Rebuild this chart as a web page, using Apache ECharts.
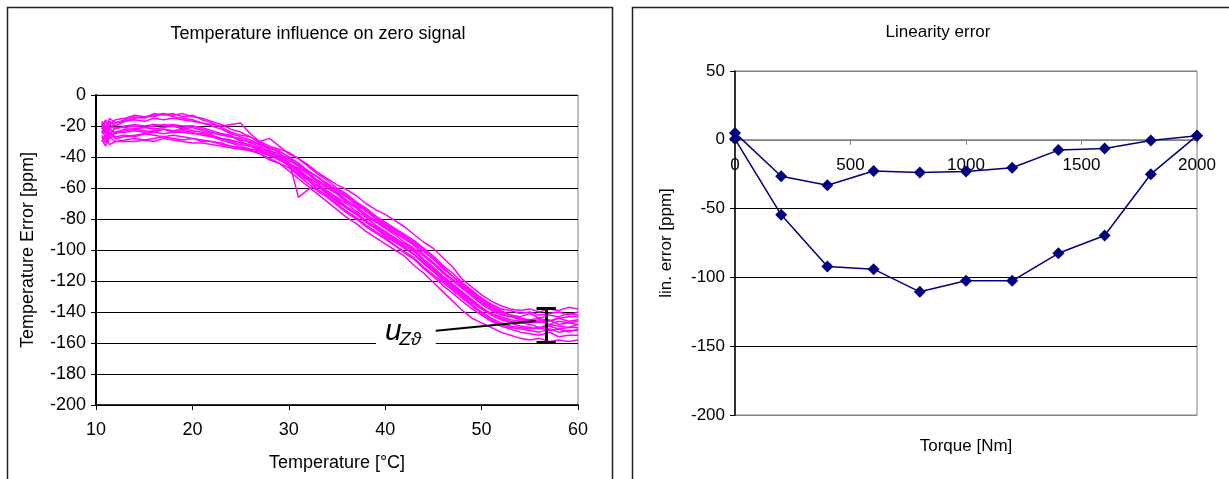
<!DOCTYPE html>
<html>
<head>
<meta charset="utf-8">
<script src="https://cdn.jsdelivr.net/npm/echarts@6/dist/echarts.min.js"></script>
<style>
  html, body { margin: 0; padding: 0; background: #fff; }
  #chart { width: 1229px; height: 479px; }
</style>
</head>
<body>
<div id="chart"></div>
<script>
// ---- Temperature influence on zero signal: repeated runs, error vs temperature ----
const temperatures = [10.6, 11.0, 11.4, 12, 13, 14, 15, 16, 17, 18, 19, 20, 21, 22, 23, 24, 25, 26, 27, 28, 29, 30,
  31, 32, 33, 34, 35, 36, 37, 38, 39, 40, 41, 42, 43, 44, 45, 46, 47, 48, 49, 50, 51, 52, 53, 54, 55, 56, 57, 58, 59, 60];

const run1 = [-18, -24, -17, -20, -17, -15, -14, -13, -12, -13, -12, -14, -15, -17, -19, -22, -24, -27, -31, -34, -37, -44,
  -50, -54, -59, -64, -69, -73, -77, -82, -86, -90, -94, -98, -103, -108, -113, -119, -124, -129, -134, -138, -141, -143, -145, -146, -147, -146, -148, -146, -147, -146];
const run2 = [-20, -16, -22, -18, -16, -14, -15, -12, -13, -12, -14, -13, -16, -18, -21, -24, -26, -27, -30, -28, -33, -38,
  -41, -46, -51, -55, -60, -64, -69, -73, -78, -82, -86, -90, -94, -99, -104, -110, -115, -121, -126, -131, -135, -138, -139, -141, -140, -142, -141, -140, -142, -140];
const run3 = [-21, -25, -19, -22, -20, -19, -20, -19, -20, -19, -20, -20, -21, -23, -25, -27, -28, -31, -33, -37, -39, -42,
  -46, -50, -55, -59, -63, -68, -72, -77, -81, -85, -89, -93, -97, -103, -108, -114, -119, -124, -129, -134, -138, -141, -143, -144, -145, -144, -146, -144, -143, -143];
const run4 = [-27, -31, -25, -28, -27, -26, -25, -24, -25, -24, -24, -25, -25, -27, -28, -30, -32, -33, -35, -37, -41, -46,
  -51, -55, -61, -65, -70, -75, -79, -84, -88, -92, -97, -101, -105, -111, -116, -121, -126, -131, -136, -141, -145, -148, -150, -151, -152, -153, -151, -153, -152, -152];
const run5 = [-19, -23, -26, -21, -21, -20, -21, -20, -19, -20, -21, -20, -22, -24, -26, -27, -29, -30, -32, -35, -40, -44,
  -48, -53, -57, -62, -66, -70, -75, -79, -84, -88, -92, -96, -100, -106, -111, -117, -122, -127, -132, -137, -141, -144, -146, -147, -148, -150, -148, -149, -150, -148];
const run6 = [-22, -17, -19, -16, -15, -13, -14, -14, -12, -14, -15, -16, -18, -19, -20, -19, -18, -25, -30, -33, -35, -37,
  -41, -45, -50, -54, -58, -61, -65, -70, -74, -77, -81, -85, -90, -95, -99, -105, -111, -119, -124, -129, -133, -136, -138, -139, -138, -140, -138, -139, -137, -138];
const run7 = [-30, -26, -32, -30, -29, -28, -29, -28, -27, -28, -29, -28, -30, -30, -31, -33, -34, -36, -38, -41, -44, -49,
  -54, -59, -64, -69, -74, -79, -83, -88, -92, -96, -100, -104, -110, -115, -121, -127, -133, -139, -144, -147, -150, -153, -155, -157, -158, -157, -159, -158, -159, -158];
const run8 = [-29, -33, -27, -30, -30, -30, -29, -30, -28, -29, -30, -31, -31, -32, -33, -34, -35, -36, -37, -39, -40, -42,
  -66, -61, -58, -63, -67, -72, -76, -81, -85, -89, -93, -97, -101, -107, -112, -118, -123, -128, -133, -138, -142, -145, -147, -149, -150, -151, -149, -151, -150, -150];
const run9 = [-24, -20, -23, -24, -22, -22, -21, -22, -21, -20, -22, -21, -23, -25, -25, -26, -30, -33, -36, -38, -41, -45,
  -47, -51, -56, -60, -64, -69, -73, -78, -82, -86, -90, -95, -99, -104, -109, -115, -120, -125, -130, -135, -139, -142, -143, -145, -146, -145, -146, -144, -146, -145];
const run10 = [-26, -29, -24, -27, -26, -27, -25, -26, -27, -26, -27, -28, -29, -30, -32, -33, -34, -35, -38, -42, -44, -47,
  -52, -57, -62, -66, -71, -76, -80, -85, -89, -93, -97, -102, -106, -112, -117, -123, -128, -133, -138, -142, -146, -149, -151, -153, -154, -155, -153, -156, -155, -155];
const run11 = [-17, -21, -15, -18, -17, -16, -17, -15, -16, -15, -16, -17, -18, -20, -22, -25, -27, -29, -32, -34, -36, -40,
  -44, -49, -53, -58, -62, -66, -71, -75, -80, -84, -88, -92, -96, -101, -106, -112, -117, -123, -128, -133, -137, -140, -142, -143, -141, -144, -142, -143, -141, -142];
const run12 = [-25, -21, -28, -24, -24, -23, -24, -23, -22, -24, -23, -24, -26, -27, -29, -31, -33, -35, -36, -39, -42, -45,
  -49, -54, -59, -63, -68, -73, -77, -82, -86, -91, -95, -99, -103, -109, -114, -120, -125, -130, -135, -140, -144, -147, -149, -150, -151, -150, -152, -151, -153, -151];
const run13 = [-23, -27, -21, -25, -23, -22, -23, -24, -22, -23, -22, -23, -24, -26, -28, -29, -31, -32, -34, -36, -38, -41,
  -45, -49, -53, -57, -61, -65, -70, -74, -79, -83, -87, -91, -95, -100, -105, -111, -117, -122, -127, -132, -136, -139, -142, -144, -146, -147, -145, -148, -147, -148];
const zeroRuns = [run1, run2, run3, run4, run5, run6, run7, run8, run9, run10, run11, run12, run13];

// spread of the zero signal at the hot end (u_Z9 bar) and its leader line
const spreadTemp = 56.7;
const spreadRange = [-137.4, -159.4];
const spreadCapHalf = 1.0;
const leaderFrom = [45.0, -152.3];
const leaderTo = [55.6, -145.8];
const symbolAt = [42.15, -152.6];
const subscriptAt = [42.6, -158.1];

// ---- Linearity error vs torque ----
const torque = [0, 200, 400, 600, 800, 1000, 1200, 1400, 1600, 1800, 2000];
const linErrorA = [5, -26.5, -33, -22.7, -23.7, -23, -20.3, -7.5, -6.3, -0.5, 3];
const linErrorB = [0.5, -54.5, -92, -94, -110.5, -102.5, -102.5, -82.5, -69.5, -25, 3];

const FONT = '"Liberation Sans", Arial, sans-serif';
const chart = echarts.init(document.getElementById('chart'), null, { renderer: 'canvas' });

const zip = (xs, ys) => xs.map((x, i) => [x, ys[i]]);
const plain = v => String(v);

const zeroSeries = zeroRuns.map(run => ({
  type: 'line',
  xAxisIndex: 0, yAxisIndex: 0,
  data: zip(temperatures, run),
  showSymbol: false,
  symbol: 'none',
  lineStyle: { color: '#ff00ff', width: 1.5 },
  silent: true,
  z: 2
}));

// annotation series: the spread bar, its leader and the u_Z9 label
zeroSeries.push({
  type: 'line',
  xAxisIndex: 0, yAxisIndex: 0,
  data: [],
  silent: true,
  z: 5,
  markLine: {
    silent: true,
    symbol: ['none', 'none'],
    label: { show: false },
    animation: false,
    data: [
      [{ coord: [spreadTemp, spreadRange[0]], lineStyle: { color: '#000', width: 3, type: 'solid' } },
       { coord: [spreadTemp, spreadRange[1]] }],
      [{ coord: [spreadTemp - spreadCapHalf, spreadRange[0]], lineStyle: { color: '#000', width: 3, type: 'solid' } },
       { coord: [spreadTemp + spreadCapHalf, spreadRange[0]] }],
      [{ coord: [spreadTemp - spreadCapHalf, spreadRange[1]], lineStyle: { color: '#000', width: 3, type: 'solid' } },
       { coord: [spreadTemp + spreadCapHalf, spreadRange[1]] }],
      [{ coord: leaderFrom, lineStyle: { color: '#000', width: 2, type: 'solid' } },
       { coord: leaderTo }]
    ]
  },
  markPoint: {
    silent: true,
    animation: false,
    symbol: 'rect',
    symbolSize: 1,
    itemStyle: { color: 'rgba(0,0,0,0)' },
    data: [
      { coord: symbolAt, label: { show: true, position: 'inside', formatter: 'u',
        fontFamily: FONT, fontStyle: 'italic', fontSize: 30, lineHeight: 30, color: '#000',
        backgroundColor: '#fff', padding: [0, 34, 4, 9] } },
      { coord: subscriptAt, label: { show: true, position: 'inside', formatter: 'Zϑ',
        fontFamily: FONT, fontStyle: 'italic', fontSize: 19, color: '#000' } }
    ]
  }
});

const linSeries = [linErrorA, linErrorB].map(vals => ({
  type: 'line',
  xAxisIndex: 1, yAxisIndex: 1,
  data: zip(torque, vals),
  symbol: 'diamond',
  symbolSize: 12,
  itemStyle: { color: '#000080' },
  lineStyle: { color: '#000080', width: 1.5 },
  silent: true,
  z: 3
}));

const leftLabel = { color: '#000', fontFamily: FONT, fontSize: 18, formatter: plain };
const rightLabel = { color: '#000', fontFamily: FONT, fontSize: 17, formatter: plain };
const leftName = { color: '#000', fontFamily: FONT, fontSize: 18 };
const rightName = { color: '#000', fontFamily: FONT, fontSize: 17 };

// the torque axis is drawn along the zero line of the error axis
const RIGHT_TOP = 71, RIGHT_HEIGHT = 344;
const linMin = -200, linMax = 50;
const zeroLineOffset = -RIGHT_HEIGHT * (0 - linMin) / (linMax - linMin);

chart.setOption({
  animation: false,
  textStyle: { fontFamily: FONT },
  title: [
    { text: 'Temperature influence on zero signal', left: 313, top: 20, textAlign: 'center',
      textStyle: { fontFamily: FONT, fontSize: 18, fontWeight: 'normal', color: '#000' } },
    { text: 'Linearity error', left: 933, top: 19, textAlign: 'center',
      textStyle: { fontFamily: FONT, fontSize: 17, fontWeight: 'normal', color: '#000' } }
  ],
  grid: [
    { left: 96, top: 95, width: 482, height: 310, outerBoundsMode: 'none', containLabel: false,
      show: true, borderColor: '#808080', borderWidth: 1, backgroundColor: '#fff' },
    { left: 735, top: RIGHT_TOP, width: 462, height: RIGHT_HEIGHT, outerBoundsMode: 'none', containLabel: false,
      show: true, borderColor: '#808080', borderWidth: 1, backgroundColor: '#fff' }
  ],
  xAxis: [
    { type: 'value', gridIndex: 0, min: 10, max: 60, interval: 10,
      name: 'Temperature [°C]', nameLocation: 'middle', nameGap: 49, nameTextStyle: leftName,
      axisLine: { show: true, onZero: false, lineStyle: { color: '#000', width: 1.5 } },
      axisTick: { show: true, length: 5, lineStyle: { color: '#000' } },
      axisLabel: Object.assign({ margin: 16 }, leftLabel),
      splitLine: { show: false } },
    { type: 'value', gridIndex: 1, min: 0, max: 2000, interval: 500,
      offset: zeroLineOffset,
      name: 'Torque [Nm]', nameLocation: 'middle', nameGap: 298, nameTextStyle: rightName,
      axisLine: { show: true, onZero: false, lineStyle: { color: '#808080', width: 1.5 } },
      axisTick: { show: true, length: 5, lineStyle: { color: '#808080' } },
      axisLabel: Object.assign({ margin: 17 }, rightLabel),
      splitLine: { show: false } }
  ],
  yAxis: [
    { type: 'value', gridIndex: 0, min: -200, max: 0, interval: 20,
      name: 'Temperature Error [ppm]', nameLocation: 'middle', nameGap: 59, nameTextStyle: leftName,
      axisLine: { show: true, onZero: false, lineStyle: { color: '#000', width: 2 } },
      axisTick: { show: true, length: 5, lineStyle: { color: '#000' } },
      axisLabel: Object.assign({ margin: 10 }, leftLabel),
      splitLine: { show: true, lineStyle: { color: '#000', width: 1 } } },
    { type: 'value', gridIndex: 1, min: linMin, max: linMax, interval: 50,
      name: 'lin. error [ppm]', nameLocation: 'middle', nameGap: 60, nameTextStyle: rightName,
      axisLine: { show: true, onZero: false, lineStyle: { color: '#000', width: 1.5 } },
      axisTick: { show: true, length: 5, lineStyle: { color: '#000' } },
      axisLabel: Object.assign({ margin: 10 }, rightLabel),
      splitLine: { show: true, lineStyle: { color: ['#808080', '#000', '#000', '#000', '#808080', '#808080'], width: 1 } } }
  ],
  graphic: [
    { type: 'rect', shape: { x: 7.5, y: 7.5, width: 605, height: 520 }, silent: true, z: -10,
      style: { fill: 'none', stroke: '#222', lineWidth: 1.5 } },
    { type: 'rect', shape: { x: 632.5, y: 7.5, width: 640, height: 520 }, silent: true, z: -10,
      style: { fill: 'none', stroke: '#222', lineWidth: 1.5 } }
  ],
  series: zeroSeries.concat(linSeries)
});
</script>
</body>
</html>
